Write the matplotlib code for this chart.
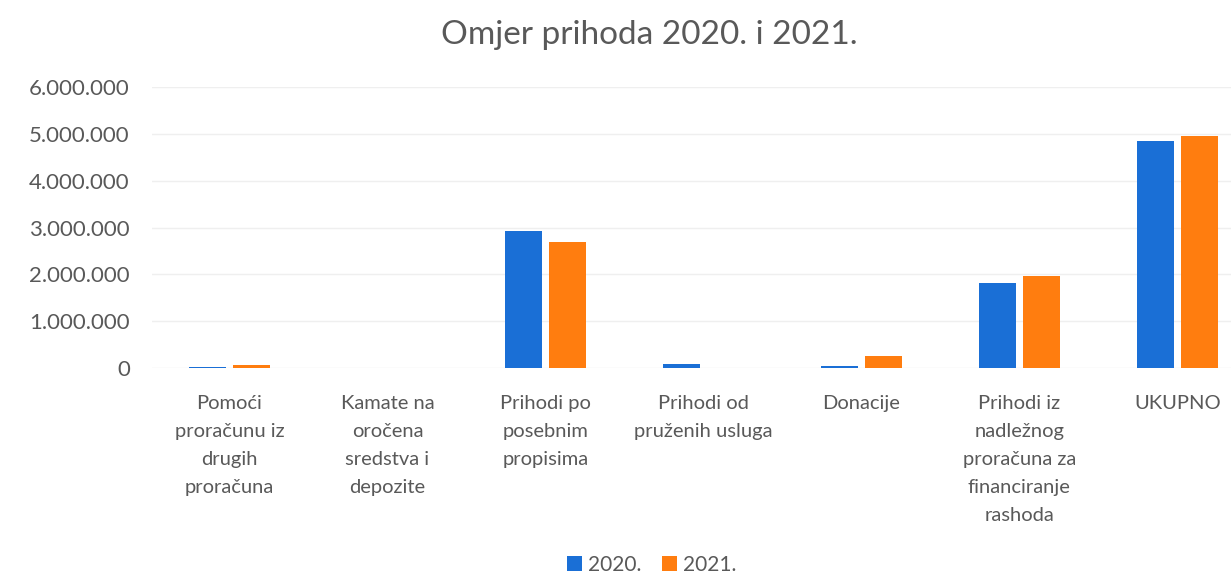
import matplotlib
matplotlib.use("Agg")
import matplotlib.pyplot as plt
import matplotlib.transforms as mtransforms
import numpy as np
from matplotlib.ticker import FuncFormatter

categories = [
    "Pomoći\nproračunu iz\ndrugih\nproračuna",
    "Kamate na\noročena\nsredstva i\ndepozite",
    "Prihodi po\nposebnim\npropisima",
    "Prihodi od\npruženih usluga",
    "Donacije",
    "Prihodi iz\nnadležnog\nproračuna za\nfinanciranje\nrashoda",
    "UKUPNO",
]
series_names = ["2020.", "2021."]
values_2020 = [20000, 0, 2930000, 80000, 40000, 1820000, 4850000]
values_2021 = [60000, 0, 2690000, 0, 250000, 1960000, 4950000]
yticks = [0, 1000000, 2000000, 3000000, 4000000, 5000000, 6000000]

plt.rcParams['font.family'] = ['Lato', 'DejaVu Sans']
TXT = '#595959'
BLUE = '#1a6fd6'
ORANGE = '#ff7d0f'

W, H = 1231, 579
fig = plt.figure(figsize=(W / 100, H / 100), dpi=100)
ax = fig.add_axes([152 / W, (H - 368) / H, (W - 152) / W, 281 / H])

x = np.arange(len(categories))
bw = 0.234
off = 0.14
ax.bar(x - off, values_2020, bw, color=BLUE, label=series_names[0], zorder=3)
ax.bar(x + off, values_2021, bw, color=ORANGE, label=series_names[1], zorder=3)

ax.set_xlim(-0.49, 6.34)
ax.set_ylim(0, 6000000)
ax.set_yticks(yticks)
ax.yaxis.set_major_formatter(FuncFormatter(lambda v, p: f"{int(v):,}".replace(",", ".")))
ax.set_xticks(x)
ax.set_xticklabels([])
ax.tick_params(axis='x', length=0)
ax.tick_params(axis='y', length=0, labelsize=16, colors=TXT, pad=16)

trans = mtransforms.blended_transform_factory(ax.transData, ax.transAxes)
for xi, cat in zip(x, categories):
    ax.text(xi, -0.097, cat, transform=trans, ha='center', va='top', fontsize=14.5,
            color=TXT, linespacing=1.78, multialignment='center')

ax.grid(axis='y', color='#efefef', linewidth=1, zorder=0)
for s in ax.spines.values():
    s.set_visible(False)

fig.text(649 / W, 1 - 35 / H, "Omjer prihoda 2020. i 2021.", ha='center', va='center',
         fontsize=24, color=TXT)

handles, labels = ax.get_legend_handles_labels()
fig.legend(handles, labels, loc='center', bbox_to_anchor=(652 / W, 1 - 565 / H), ncol=2,
           frameon=False, fontsize=15, labelcolor=TXT, handlelength=0.7, handleheight=0.7,
           handletextpad=0.3, columnspacing=1.0)

fig.savefig("out.png", dpi=100, facecolor='white')
